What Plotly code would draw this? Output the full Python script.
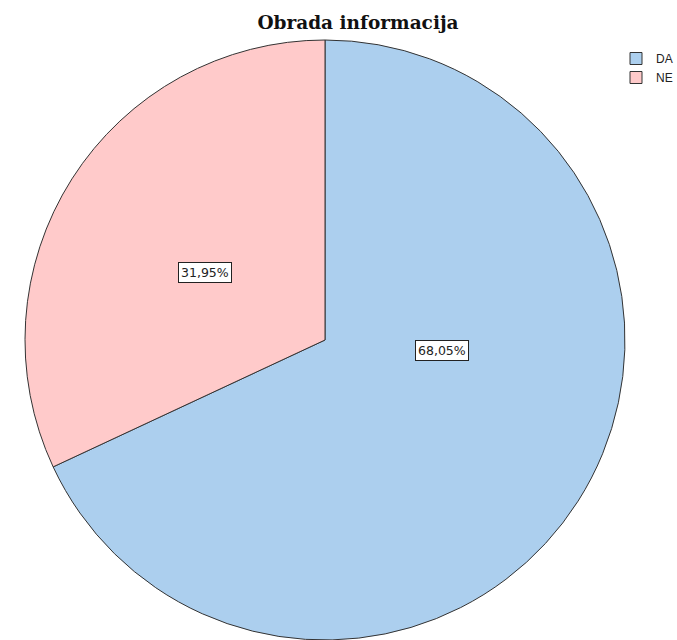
import plotly.graph_objects as go

categories = ["DA", "NE"]
percentages = [68.05, 31.95]
label_texts = ["68,05%", "31,95%"]
colors = ["#accfee", "#ffcaca"]

W, H = 677, 640
cx, r = 325, 300

fig = go.Figure()
fig.add_trace(go.Pie(
    labels=categories,
    values=percentages,
    sort=False,
    direction="clockwise",
    rotation=0,
    textinfo="none",
    hoverinfo="label+percent",
    marker=dict(colors=colors, line=dict(color="#333333", width=1)),
    domain=dict(x=[(cx - r) / W, (cx + r) / W], y=[0, 2 * r / H]),
))

label_pos = [(442 / W, 1 - 350 / H), (205 / W, 1 - 272 / H)]
for (x, y), t in zip(label_pos, label_texts):
    fig.add_annotation(
        x=x, y=y, xref="paper", yref="paper", text=t, showarrow=False,
        xanchor="center", yanchor="middle",
        font=dict(family="DejaVu Sans", size=12.5, color="#222222"),
        bgcolor="white", bordercolor="#222222", borderwidth=1, borderpad=2,
    )

fig.update_layout(
    width=W, height=H,
    margin=dict(l=0, r=0, t=0, b=0, autoexpand=False),
    paper_bgcolor="white", plot_bgcolor="white",
    title=dict(text="<b>Obrada informacija</b>", x=358 / W, xanchor="center",
               y=1 - 23 / H, yanchor="middle",
               font=dict(family="DejaVu Serif", size=18.5, color="#111111")),
    legend=dict(x=616 / W, y=1 - 44 / H, xanchor="left", yanchor="top",
                font=dict(family="Liberation Sans", size=12, color="#222222"),
                bgcolor="rgba(0,0,0,0)", itemwidth=30, tracegroupgap=0),
    showlegend=True,
)

fig.write_html("out.html", config={"displayModeBar": False},
               post_script="document.body.style.margin='0';")
